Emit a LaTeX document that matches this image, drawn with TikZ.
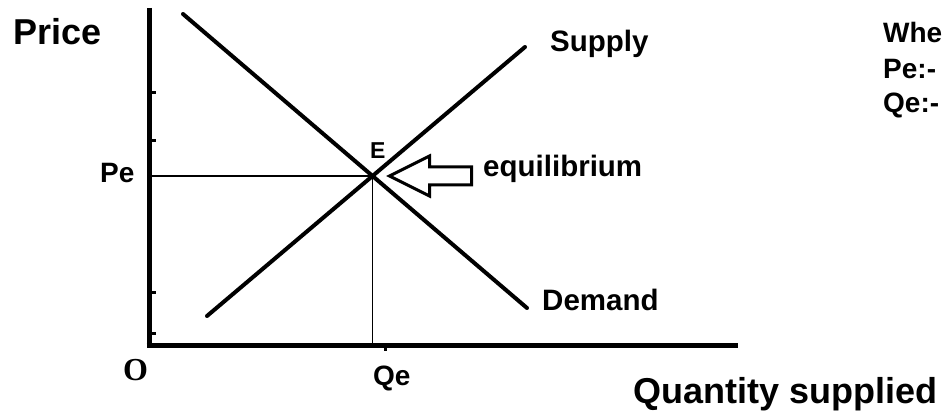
\documentclass[tikz,border=0pt]{standalone}
\usepackage{fontspec}
\setmainfont{Liberation Sans}
\newfontfamily\timesfont{Liberation Serif}
\newcommand{\axisfont}{\fontsize{36}{36}\selectfont\bfseries}
\newcommand{\curvefont}{\fontsize{29.5}{30}\selectfont\bfseries}
\newcommand{\markfont}{\fontsize{28}{28}\selectfont\bfseries}

\begin{document}
\begin{tikzpicture}[x=1pt, y=-1pt,
    axis/.style={line width=5pt},
    curve/.style={line width=4pt, line cap=round},
    guide/.style={line width=1.5pt},
    lbl/.style={inner sep=0pt, anchor=base west}]
    \useasboundingbox (0,0) rectangle (943,412);

    % axes
    \coordinate (top) at (149,8);
    \coordinate (O) at (149,345);
    \coordinate (right) at (738,345);
    \draw[axis] (top) -- ([yshift=2.5pt]O) ;
    \draw[axis] ([xshift=-2.5pt]O) -- (right);
    \foreach \y in {93,140,292,333}
        \draw[line width=3pt] (151,\y) -- (156,\y);
    \draw[line width=3pt] (385,347) -- (385,351);

    % demand and supply
    \coordinate (d1) at (183,14);
    \coordinate (d2) at (527,308);
    \coordinate (s1) at (207,316);
    \coordinate (s2) at (525,47);
    \draw[curve] (d1) -- (d2);
    \draw[curve] (s1) -- (s2);
    \coordinate (E) at (intersection of d1--d2 and s1--s2);

    % equilibrium guides
    \draw[guide] (E) -- (E -| O);
    \draw[guide] (E) -- (E |- O);

    % hollow arrow
    \draw[line width=3pt, line join=miter]
        ([xshift=17pt]E) -- ++(40,-20) -- ++(0,11) -- ++(42,0)
        -- ++(0,18) -- ++(-42,0) -- ++(0,11) -- cycle;

    % labels
    \node[lbl, font=\axisfont] (price) at (13,45) {Price};
    \node[lbl, font=\axisfont] (qs) at (633,403) {Quantity supplied};
    \node[lbl, font=\fontsize{32}{32}\selectfont\timesfont\bfseries] (olbl) at (123,380) {O};
    \node[lbl, font=\markfont] (pe) at (100,182) {Pe};
    \node[lbl, font=\markfont] (qe) at (373,385) {Qe};
    \node[lbl, font=\fontsize{23}{23}\selectfont\bfseries] (elbl) at (370,158) {E};
    \node[lbl, font=\curvefont] (eq) at (483,176) {equilibrium};
    \node[lbl, font=\curvefont] (supply) at (550,52) {Supply};
    \node[lbl, font=\curvefont] (demand) at (542,310) {Demand};
    \node[lbl, font=\markfont] (where) at (883,43) {Whe};
    \node[lbl, font=\markfont] (pedef) at (883,78) {Pe:-};
    \node[lbl, font=\markfont] (qedef) at (883,112) {Qe:-};
\end{tikzpicture}
\end{document}
